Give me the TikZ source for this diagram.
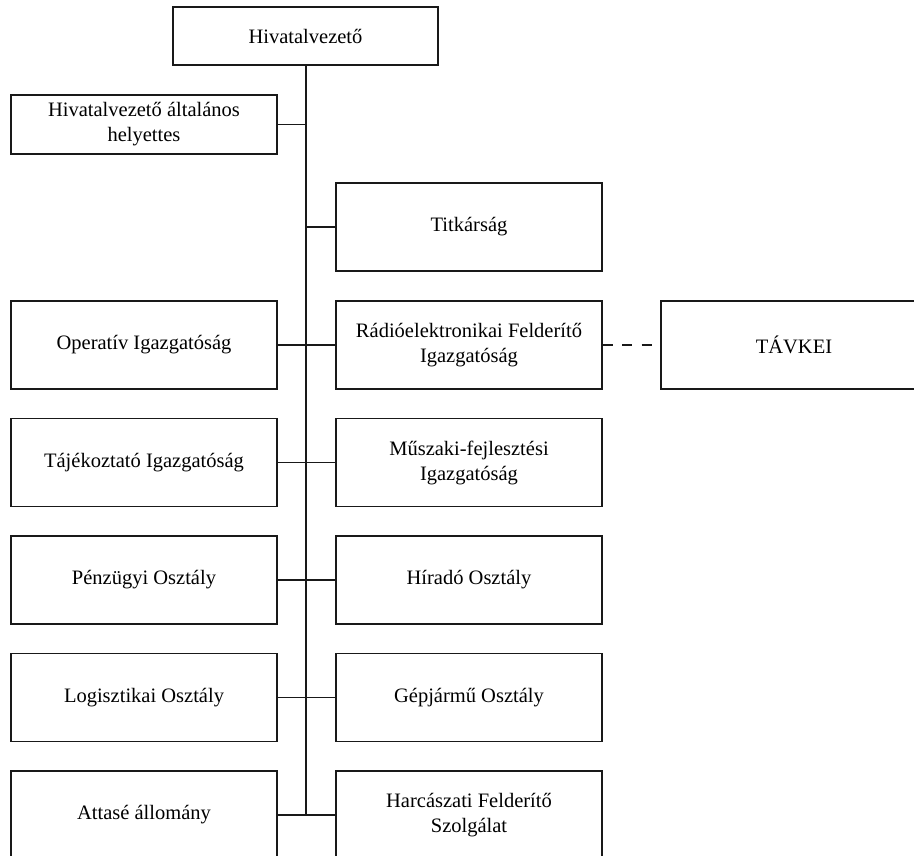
\documentclass[tikz,border=0pt]{standalone}
\usepackage{fontspec}
\setmainfont{Liberation Serif}
\begin{document}
\begin{tikzpicture}[x=1pt,y=-1pt,
  box/.style={draw=black!90, line width=1.3pt, fill=white, inner sep=0pt,
    minimum width=266pt, minimum height=88pt, align=center,
    font=\fontsize{20.5}{25}\selectfont},
  link/.style={draw=black!90, line width=1.3pt},
  dashlink/.style={draw=black!90, line width=1.3pt, dash pattern=on 10pt off 9.5pt}]
\useasboundingbox (0,0) rectangle (914,856);
\clip (0,0) rectangle (914,856);
% boxes
\node[box, minimum width=265pt, minimum height=58pt] (head) at (305.5,36) {Hivatalvezető};
\node[box, minimum height=59pt] (dep) at (144,124.5) {Hivatalvezető általános\\helyettes};
\node[box] (tit) at (469,227) {Titkárság};
\node[box] (op) at (144,345) {Operatív Igazgatóság};
\node[box] (rad) at (469,345) {Rádióelektronikai Felderítő\\Igazgatóság};
\node[box] (tav) at (794,345) {TÁVKEI};
\node[box] (taj) at (144,462.5) {Tájékoztató Igazgatóság};
\node[box] (mus) at (469,462.5) {Műszaki-fejlesztési\\Igazgatóság};
\node[box] (pen) at (144,580) {Pénzügyi Osztály};
\node[box] (hir) at (469,580) {Híradó Osztály};
\node[box] (log) at (144,697.5) {Logisztikai Osztály};
\node[box] (gep) at (469,697.5) {Gépjármű Osztály};
\node[box] (att) at (144,815) {Attasé állomány};
\node[box] (har) at (469,815) {Harcászati Felderítő\\Szolgálat};
% trunk
\coordinate (tend) at (306,815);
\coordinate (tdep) at (306,124.5);
\coordinate (ttit) at (306,227);
\draw[link] (head.south -| tend) -- (tend);
\draw[link] (dep.east) -- (tdep);
\draw[link] (ttit) -- (tit.west);
\draw[link] (op.east) -- (rad.west);
\draw[link] (taj.east) -- (mus.west);
\draw[link] (pen.east) -- (hir.west);
\draw[link] (log.east) -- (gep.west);
\draw[link] (att.east) -- (har.west);
\draw[dashlink] (rad.east) -- (tav.west);
\end{tikzpicture}
\end{document}
